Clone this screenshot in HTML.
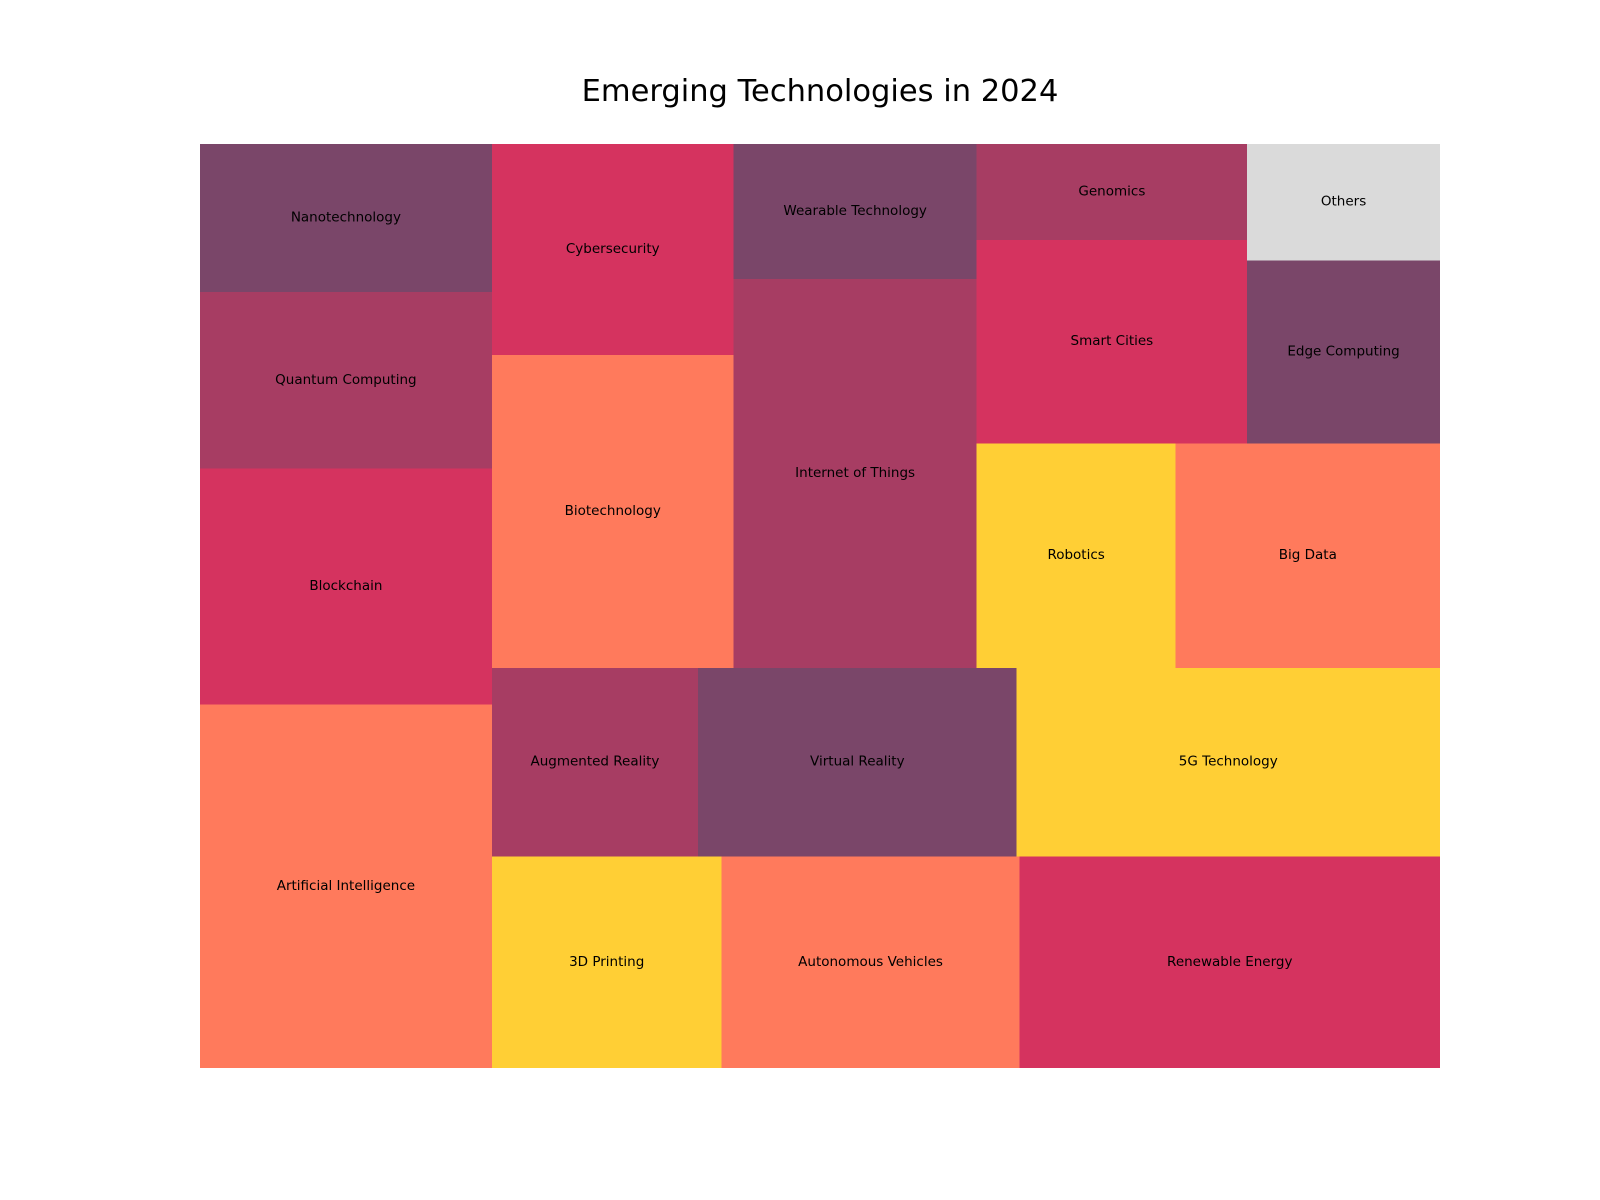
<!DOCTYPE html>
<html><head><meta charset="utf-8"><title>Emerging Technologies in 2024</title>
<style>
html,body{margin:0;padding:0;background:#fff;}
svg{display:block;font-family:"DejaVu Sans","Liberation Sans",sans-serif;}
</style></head>
<body>
<svg id="chart" width="1600" height="1200" viewBox="0 0 1600 1200">
<text x="820" y="101" text-anchor="middle" font-size="30.5" fill="#000">Emerging Technologies in 2024</text>
<g id="tiles"></g>
</svg>
<script>
const categories = ["Artificial Intelligence","Blockchain","Quantum Computing","Nanotechnology","3D Printing","Autonomous Vehicles","Renewable Energy","Augmented Reality","Virtual Reality","5G Technology","Biotechnology","Cybersecurity","Internet of Things","Wearable Technology","Robotics","Big Data","Smart Cities","Genomics","Edge Computing","Others"];
const values = [9.26,6.01,4.5,3.77,4.24,5.5,7.76,3.4,5.25,6.98,6.6,4.46,8.25,2.86,3.9,5.18,4.8,2.27,3.08,1.96];
const palette = ["#ff7a5c","#d5335f","#a73d63","#7a4669","#ffcf35"];
const othersColor = "#dadada";

const X0=200, X1=1440, Y0=1068, Y1=144;
function sx(v){return X0+(X1-X0)*v/100;}
function sy(v){return Y0+(Y1-Y0)*v/100;}

function layoutrow(s,x,y,dx,dy){const c=s.reduce((a,b)=>a+b,0);const h=c/dx;const r=[];let cx=x;for(const v of s){r.push({x:cx,y:y,dx:v/h,dy:h});cx+=v/h;}return r;}
function layoutcol(s,x,y,dx,dy){const c=s.reduce((a,b)=>a+b,0);const w=c/dy;const r=[];let cy=y;for(const v of s){r.push({x:x,y:cy,dx:w,dy:v/w});cy+=v/w;}return r;}
function layout(s,x,y,dx,dy){return dx>=dy?layoutcol(s,x,y,dx,dy):layoutrow(s,x,y,dx,dy);}
function leftover(s,x,y,dx,dy){const c=s.reduce((a,b)=>a+b,0);if(dx>=dy){const w=c/dy;return [x+w,y,dx-w,dy];}const h=c/dx;return [x,y+h,dx,dy-h];}
function worst(s,x,y,dx,dy){return Math.max(...layout(s,x,y,dx,dy).map(r=>Math.max(r.dx/r.dy,r.dy/r.dx)));}
function squarify(s,x,y,dx,dy){
  if(s.length===0)return [];
  if(s.length===1)return layout(s,x,y,dx,dy);
  let i=1;
  while(i<s.length && worst(s.slice(0,i),x,y,dx,dy)>=worst(s.slice(0,i+1),x,y,dx,dy))i++;
  const cur=s.slice(0,i),rem=s.slice(i);
  const [lx,ly,ldx,ldy]=leftover(cur,x,y,dx,dy);
  return layout(cur,x,y,dx,dy).concat(squarify(rem,lx,ly,ldx,ldy));
}
const total=values.reduce((a,b)=>a+b,0);
const norm=values.map(v=>v*100*100/total);
const rects=squarify(norm,0,0,100,100);
const g=document.getElementById('tiles');
const NS="http://www.w3.org/2000/svg";
rects.forEach((r,i)=>{
  const px=sx(r.x), pw=sx(r.x+r.dx)-px;
  const py=sy(r.y+r.dy), ph=sy(r.y)-py;
  const rect=document.createElementNS(NS,'rect');
  rect.setAttribute('x',px);rect.setAttribute('y',py);
  rect.setAttribute('width',pw);rect.setAttribute('height',ph);
  rect.setAttribute('shape-rendering','crispEdges');
  rect.setAttribute('fill',i===categories.length-1?othersColor:palette[i%5]);
  const slug=categories[i].toLowerCase().replace(/[^a-z0-9]+/g,'-');
  
  
  g.appendChild(rect);
  const t=document.createElementNS(NS,'text');
  t.setAttribute('x',px+pw/2);t.setAttribute('y',py+ph/2+3.5);
  t.setAttribute('text-anchor','middle');t.setAttribute('font-size','13.5');t.setAttribute('fill','#000');
  t.textContent=categories[i];
  
  
  g.appendChild(t);
});
</script>
</body></html>
